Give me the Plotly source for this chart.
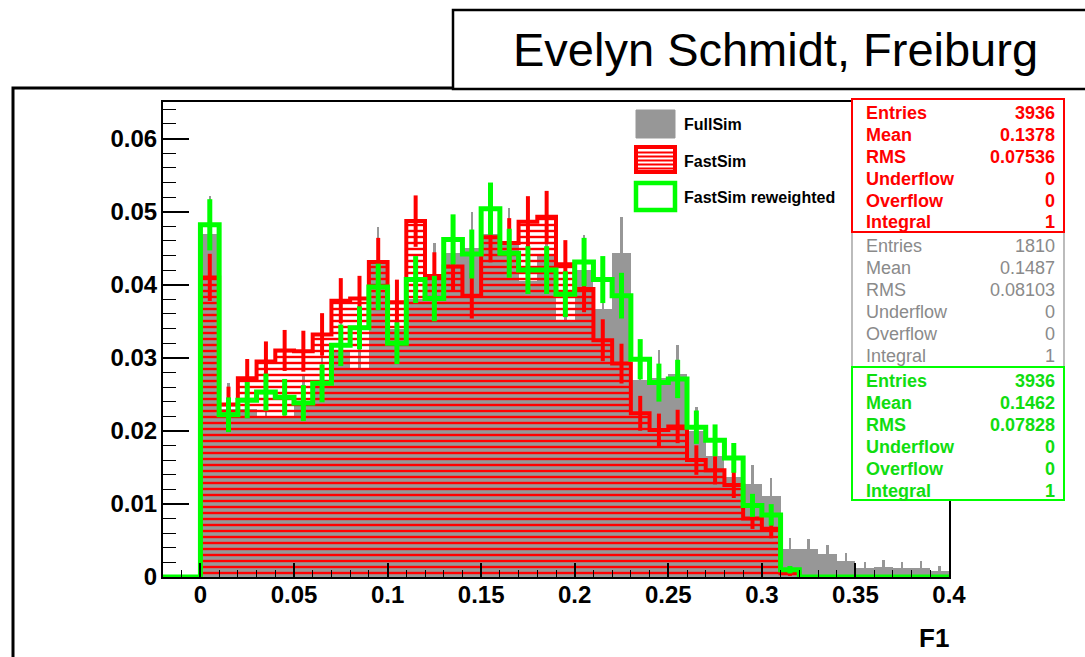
import numpy as np
import plotly.graph_objects as go

# ---- histogram binning: 42 bins of 0.01 from -0.02 to 0.40 ----
HIST_LO, HIST_HI, N_BINS = -0.02, 0.40, 42

# normalised bin contents (integral = 1)
fullsim = [0, 0,
           0.047, 0.023, 0.023, 0.022, 0.022, 0.024, 0.027, 0.031, 0.0285, 0.043,
           0.034, 0.038, 0.041, 0.0444, 0.045, 0.047, 0.0455, 0.0405, 0.044, 0.035,
           0.042, 0.0367, 0.0443, 0.027, 0.0272, 0.0278, 0.020, 0.0166, 0.0137, 0.0127,
           0.0111, 0.0039, 0.0038, 0.0031, 0.0022, 0.0012, 0.0014, 0.0012, 0.0013, 0.0008]

fastsim = [0, 0,
           0.041, 0.0236, 0.0272, 0.0295, 0.031, 0.0309, 0.0332, 0.0378, 0.0381, 0.0431,
           0.0376, 0.0487, 0.0412, 0.0425, 0.0385, 0.0465, 0.0457, 0.0486, 0.0493, 0.0428,
           0.0394, 0.0324, 0.0292, 0.0224, 0.0201, 0.0206, 0.016, 0.0146, 0.0126, 0.008,
           0.0066, 0.0005, 0, 0, 0, 0, 0, 0, 0, 0]

fastsim_rw = [0, 0,
              0.0482, 0.0222, 0.0242, 0.0253, 0.0246, 0.0238, 0.0265, 0.0317, 0.0341, 0.0397,
              0.032, 0.0407, 0.0381, 0.0462, 0.0442, 0.0504, 0.0443, 0.042, 0.042, 0.0387,
              0.0431, 0.0407, 0.0385, 0.0298, 0.0266, 0.0271, 0.0205, 0.0187, 0.0163, 0.0098,
              0.0085, 0.001, 0, 0, 0, 0, 0, 0, 0, 0]

# statistics boxes
stat_labels = ["Entries", "Mean", "RMS", "Underflow", "Overflow", "Integral"]
stats_fast = ["3936", "0.1378", "0.07536", "0", "0", "1"]
stats_full = ["1810", "0.1487", "0.08103", "0", "0", "1"]
stats_rw = ["3936", "0.1462", "0.07828", "0", "0", "1"]
entries_full, entries_fast, entries_rw = 1810, 3936, 3936

legend_labels = ["FullSim", "FastSim", "FastSim reweighted"]
title_text = "Evelyn Schmidt, Freiburg"
x_title = "F1"

# ---- derived bin geometry and Poisson uncertainties ----
edges = np.linspace(HIST_LO, HIST_HI, N_BINS + 1)
centers = 0.5 * (edges[:-1] + edges[1:])
width = edges[1] - edges[0]


def stat_err(vals, n):
    v = np.asarray(vals, dtype=float)
    return np.sqrt(v / n)


def step_xy(vals):
    return list(edges), list(vals) + [vals[-1]]


RED = "#ff0000"
GREEN = "#00ff00"
GRAY = "#979797"
FONT = "Liberation Sans, Arial, Helvetica, sans-serif"

fig = go.Figure()

# FullSim: solid grey histogram with thin error bars
fig.add_trace(go.Bar(
    x=centers, y=fullsim, width=width,
    marker=dict(color=GRAY, line=dict(width=0)),
    error_y=dict(type="data", array=stat_err(fullsim, entries_full),
                 width=0, thickness=2.5, color=GRAY),
    showlegend=False, hoverinfo="skip"))

# FastSim: horizontal red hatching
fig.add_trace(go.Bar(
    x=centers, y=fastsim, width=width,
    marker=dict(color="rgba(0,0,0,0)", line=dict(width=0),
                pattern=dict(shape="-", fgcolor=RED, bgcolor="rgba(0,0,0,0)",
                             size=6, solidity=0.4, fillmode="replace")),
    showlegend=False, hoverinfo="skip"))

# FastSim outline + errors
sx, sy = step_xy(fastsim)
fig.add_trace(go.Scatter(x=sx, y=sy, mode="lines", line=dict(color=RED, width=4, shape="hv"),
                         showlegend=False, hoverinfo="skip"))
fig.add_trace(go.Scatter(x=centers, y=fastsim, mode="markers",
                         marker=dict(size=1, opacity=0),
                         error_y=dict(type="data", array=stat_err(fastsim, entries_fast),
                                      width=0, thickness=4, color=RED),
                         showlegend=False, hoverinfo="skip"))

# FastSim reweighted outline + errors
gx, gy = step_xy(fastsim_rw)
fig.add_trace(go.Scatter(x=gx, y=gy, mode="lines", line=dict(color=GREEN, width=5, shape="hv"),
                         showlegend=False, hoverinfo="skip"))
fig.add_trace(go.Scatter(x=centers, y=fastsim_rw, mode="markers",
                         marker=dict(size=1, opacity=0),
                         error_y=dict(type="data", array=stat_err(fastsim_rw, entries_rw),
                                      width=0, thickness=5, color=GREEN),
                         showlegend=False, hoverinfo="skip"))

# ---- page geometry helpers (pixel -> paper) ----
L, R, T, B = 163, 949, 102, 577
W_PLOT, H_PLOT = R - L, B - T


def px(x):
    return (x - L) / W_PLOT


def py(y):
    return (B - y) / H_PLOT


shapes = []
annotations = []

# outer pad frame
shapes.append(dict(type="rect", xref="paper", yref="paper", x0=px(13), x1=px(1095),
                   y0=py(88), y1=py(670), line=dict(color="black", width=3),
                   fillcolor="rgba(0,0,0,0)", layer="above"))
# title box
shapes.append(dict(type="rect", xref="paper", yref="paper", x0=px(453), x1=px(1095),
                   y0=py(10), y1=py(89), line=dict(color="black", width=2.5),
                   fillcolor="white", layer="above"))
annotations.append(dict(text=title_text, xref="paper", yref="paper", x=px(775), y=py(50),
                        xanchor="center", yanchor="middle", showarrow=False,
                        font=dict(family=FONT, size=47, color="black")))

# statistics boxes
boxes = [
    (stats_fast, RED, "#ff0000", 99, 232, 2, 700),
    (stats_full, "#8f8f8f", "#8a8a8a", 232, 367, 1.2, 400),
    (stats_rw, GREEN, "#10dd10", 367, 500, 2, 700),
]
for vals, lc, tc, y0, y1, lw, wt in boxes:
    shapes.append(dict(type="rect", xref="paper", yref="paper", x0=px(852), x1=px(1064),
                       y0=py(y0), y1=py(y1), line=dict(color=lc, width=lw),
                       fillcolor="white", layer="above"))
    for i, (lab, val) in enumerate(zip(stat_labels, vals)):
        yc = y0 + 13.5 + 22.0 * i
        annotations.append(dict(text=lab, xref="paper", yref="paper", x=px(864), y=py(yc),
                                xanchor="left", yanchor="middle", showarrow=False,
                                font=dict(family=FONT, size=18, color=tc, weight=wt)))
        annotations.append(dict(text=val, xref="paper", yref="paper", x=px(1057), y=py(yc),
                                xanchor="right", yanchor="middle", showarrow=False,
                                font=dict(family=FONT, size=18, color=tc, weight=wt)))
# redraw the shared borders so the coloured boxes stay on top
shapes.append(dict(type="rect", xref="paper", yref="paper", x0=px(852), x1=px(1064),
                   y0=py(99), y1=py(232), line=dict(color=RED, width=2), layer="above"))

# legend swatches
shapes.append(dict(type="rect", xref="paper", yref="paper", x0=px(636), x1=px(675),
                   y0=py(110), y1=py(138), line=dict(color=GRAY, width=1),
                   fillcolor=GRAY, layer="above"))
shapes.append(dict(type="rect", xref="paper", yref="paper", x0=px(636), x1=px(675),
                   y0=py(147), y1=py(172), line=dict(color=RED, width=4),
                   fillcolor="white", layer="above"))
for yy in (152.5, 156.5, 160.5, 164.5, 168.5):
    shapes.append(dict(type="line", xref="paper", yref="paper", x0=px(636), x1=px(675),
                       y0=py(yy), y1=py(yy), line=dict(color=RED, width=1.8), layer="above"))
shapes.append(dict(type="rect", xref="paper", yref="paper", x0=px(636), x1=px(675),
                   y0=py(183), y1=py(210), line=dict(color=GREEN, width=4.5),
                   fillcolor="white", layer="above"))
for lab, yc in zip(legend_labels, (124, 161, 197)):
    annotations.append(dict(text=lab, xref="paper", yref="paper", x=px(682), y=py(yc),
                            xanchor="left", yanchor="middle", showarrow=False,
                            font=dict(family=FONT, size=16, color="black", weight=700)))

# x-axis title
annotations.append(dict(text=x_title, xref="paper", yref="paper", x=px(951), y=py(638),
                        xanchor="right", yanchor="middle", showarrow=False,
                        font=dict(family=FONT, size=26, color="black", weight=700)))

fig.update_layout(
    width=1085, height=657,
    margin=dict(l=L, r=1085 - R, t=T, b=657 - B, pad=0),
    paper_bgcolor="white", plot_bgcolor="white",
    barmode="overlay", bargap=0,
    shapes=shapes, annotations=annotations,
    showlegend=False,
    font=dict(family=FONT, color="black"),
)
fig.update_xaxes(
    range=[HIST_LO, HIST_HI], showgrid=False, zeroline=False,
    showline=True, mirror=True, linecolor="black", linewidth=2,
    ticks="inside", ticklen=14, tickwidth=1.5, tickcolor="black",
    dtick=0.05, tick0=0,
    minor=dict(ticks="inside", ticklen=7, dtick=0.01, tick0=0, tickcolor="black", tickwidth=1.2),
    tickfont=dict(family=FONT, size=24, color="black", weight=700),
    ticklabelstandoff=-5,
)
fig.update_yaxes(
    range=[0, 0.065], showgrid=False, zeroline=False,
    showline=True, mirror=True, linecolor="black", linewidth=2,
    ticks="inside", ticklen=26, tickwidth=1.5, tickcolor="black",
    dtick=0.01, tick0=0,
    minor=dict(ticks="inside", ticklen=13, dtick=0.002, tick0=0, tickcolor="black", tickwidth=1.2),
    tickfont=dict(family=FONT, size=24, color="black", weight=700),
    ticklabelstandoff=-1,
)

fig.write_html("out.html")
